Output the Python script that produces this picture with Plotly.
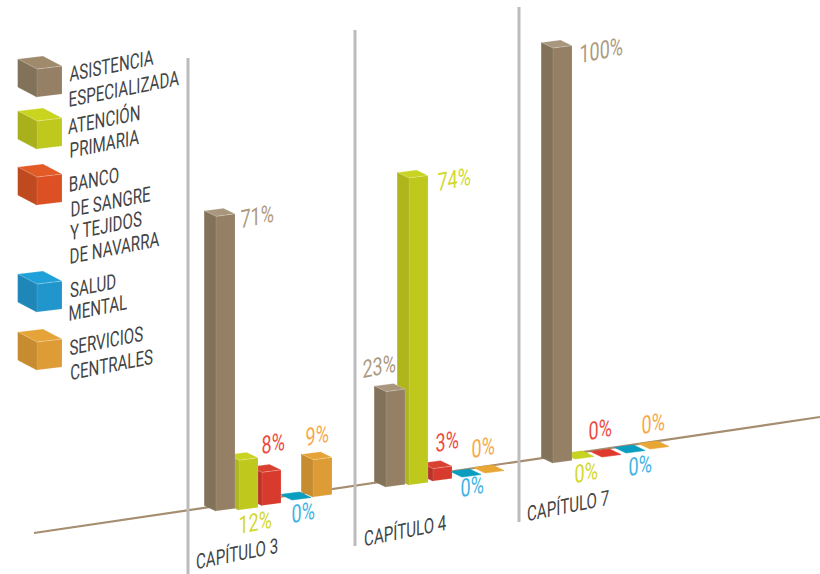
import plotly.graph_objects as go

# ---- data -------------------------------------------------------------
chapters = ["CAPÍTULO 3", "CAPÍTULO 4", "CAPÍTULO 7"]
series = ["ASISTENCIA ESPECIALIZADA", "ATENCIÓN PRIMARIA", "BANCO DE SANGRE Y TEJIDOS DE NAVARRA", "SALUD MENTAL", "SERVICIOS CENTRALES"]
asistencia = [71, 23, 100]
atencion = [12, 74, 0]
banco = [8, 3, 0]
salud = [0, 0, 0]
servicios = [9, 0, 0]
values = [asistencia, atencion, banco, salud, servicios]

# ---- layout / style (page pixels) --------------------------------------
W, H = 820, 574
PX_PER_PCT = 4.15
FONT = "Roboto, sans-serif"
def Y(py):
    return (H - py) / PX_PER_PCT

FRONT = [  # base front corner per chapter, per series
    [(216, 511), (239, 510), (262, 505.5), (292, 500), (313, 497)],
    [(386, 487), (409, 485), (433, 481), (462, 477), (485, 473)],
    [(553, 463), (575, 459), (602, 457), (626, 453), (650, 449)],
]
A = (-11.5, -5.5)
B = (19, -2.5)

FACE = {  # left, right, top, flat
    0: ("#82725a", "#958065", "#a8967d", "#958065"),
    1: ("#aeb61c", "#bfc91d", "#c8d322", "#c6d321"),
    2: ("#b8352a", "#d93a2e", "#d8402f", "#e03a30"),
    3: ("#0b8aa8", "#0a9cc0", "#0a9dc0", "#0a9dc0"),
    4: ("#c88c30", "#de9c36", "#e6a438", "#e8a735"),
}
LEG_FACE = [
    ("#82725a", "#958065", "#a08a6c"),
    ("#a8b01c", "#bfc91d", "#c8d41e"),
    ("#c04a20", "#dc5023", "#e25a26"),
    ("#1f86b8", "#2196cc", "#20a0d8"),
    ("#c88c30", "#de9c36", "#e6a438"),
]
LABEL_COL = ["#ad9a80", "#d3d82c", "#ee4b3f", "#3fb3e3", "#f6a94a"]
LABEL_POS = [
    [(257, 216), (255, 522), (273, 443), (303, 512), (317, 435)],
    [(379, 366), (454, 179), (447, 441), (472, 486), (483, 447)],
    [(601, 50), (586, 472), (600, 429), (640, 465), (653, 423)],
]
CHAPTER_POS = [(237, 554), (405, 531), (568, 506)]
DIVIDERS = [(188, 58, 574), (355, 30, 546), (519, 7, 522)]
GROUND = [(34, 533), (820, 417)]

LEG_FRONT = [(37, 97), (37, 149), (37, 205), (37, 312), (37, 370)]
LEG_A, LEG_B, LEG_H = (-19, -10), (25, -3), 28
LEG_LINES = [
    ("ASISTENCIA", 111, 66), ("ESPECIALIZADA", 124, 89),
    ("ATENCIÓN", 104, 120), ("PRIMARIA", 104, 144),
    ("BANCO", 94, 180), ("DE SANGRE", 110, 202), ("Y TEJIDOS", 106, 226), ("DE NAVARRA", 114, 248),
    ("SALUD", 93, 286), ("MENTAL", 98, 308),
    ("SERVICIOS", 106, 341), ("CENTRALES", 111, 365),
]

fig = go.Figure()

def poly(pts, color, edge=None, name=""):
    xs = [p[0] for p in pts] + [pts[0][0]]
    ys = [p[1] for p in pts] + [pts[0][1]]
    fig.add_trace(go.Scatter(x=xs, y=ys, mode="lines", fill="toself", fillcolor=color,
                             line=dict(color=edge or color, width=0.6), hoverinfo="text", text=name,
                             showlegend=False))

def block(fx, fy, value_h, a, b, cols, flat=None, name=""):
    """3-D block: base front corner in page px, height in percent units."""
    y0 = Y(fy)
    ax, ay = a[0], -a[1] / PX_PER_PCT
    bx, by = b[0], -b[1] / PX_PER_PCT
    front_t = (fx, y0 + value_h)
    if value_h == 0:
        poly([(fx, y0), (fx + ax, y0 + ay), (fx + ax + bx, y0 + ay + by), (fx + bx, y0 + by)], flat, name=name)
        return
    left = [(fx + ax, y0 + ay), (fx, y0), front_t, (fx + ax, y0 + ay + value_h)]
    right = [(fx, y0), (fx + bx, y0 + by), (fx + bx, y0 + by + value_h), front_t]
    top = [front_t, (fx + bx, y0 + by + value_h), (fx + ax + bx, y0 + ay + by + value_h), (fx + ax, y0 + ay + value_h)]
    poly(left, cols[0], name=name)
    poly(right, cols[1], edge="rgba(255,255,255,0.2)", name=name)
    poly(top, cols[2], edge="rgba(255,255,255,0.35)", name=name)

# ground line
fig.add_trace(go.Scatter(x=[p[0] for p in GROUND], y=[Y(p[1]) for p in GROUND], mode="lines",
                         line=dict(color="#a58d70", width=2.2), hoverinfo="skip", showlegend=False))
# chapter dividers
for x, y0, y1 in DIVIDERS:
    fig.add_trace(go.Scatter(x=[x, x], y=[Y(y0), Y(y1)], mode="lines",
                             line=dict(color="#bcbcbe", width=3), hoverinfo="skip", showlegend=False))

annotations = []
def label(text, x, y, size, color):
    annotations.append(dict(x=x, y=Y(y), xref="x", yref="y", text=text, showarrow=False,
                            xanchor="center", yanchor="middle",
                            font=dict(family=FONT, size=size, color=color)))

# bars, painted from right to left so nearer blocks cover farther ones
for c, chapter in enumerate(chapters):
    for s in range(len(series) - 1, -1, -1):
        v = values[s][c]
        fx, fy = FRONT[c][s]
        l, r, t, fl = FACE[s]
        block(fx, fy, v, A, B, (l, r, t), flat=fl, name=f"{chapter} – {series[s]}: {v}%")
    for s in range(len(series)):
        px, py = LABEL_POS[c][s]
        label(f"{values[s][c]}%", px, py, 25, LABEL_COL[s])
    px, py = CHAPTER_POS[c]
    label(chapter, px, py, 21, "#444444")

# legend cubes and labels
for s in range(len(series)):
    fx, fy = LEG_FRONT[s]
    block(fx, fy, LEG_H / PX_PER_PCT, LEG_A, LEG_B, LEG_FACE[s], name=series[s])
for text, x, y in LEG_LINES:
    label(text, x, y, 21, "#444444")

fig.update_layout(
    width=W, height=H, margin=dict(l=0, r=0, t=0, b=0), autosize=False,
    paper_bgcolor="white", plot_bgcolor="white",
    xaxis=dict(range=[0, W], visible=False, fixedrange=True),
    yaxis=dict(range=[0, H / PX_PER_PCT], visible=False, fixedrange=True),
    annotations=annotations, showlegend=False,
)
# the reference's lettering is condensed and sheared along the ground line
POST = """
document.body.style.margin='0';document.body.style.overflow='hidden';
function shearText(){
  document.querySelectorAll('.annotation-text').forEach(function(t){
    if(t.getAttribute('data-sheared')) return;
    var b=t.getBBox(), cx=b.x+b.width/2, cy=b.y+b.height/2;
    var old=t.getAttribute('transform')||'';
    t.setAttribute('transform', old+' translate('+cx+','+cy+') matrix(0.72,-0.144,0,1,0,0) translate('+(-cx)+','+(-cy)+')');
    t.setAttribute('data-sheared','1');
  });
}
shearText(); setTimeout(shearText,30);
"""
fig.write_html("out.html", config={"displayModeBar": False}, post_script=POST)
